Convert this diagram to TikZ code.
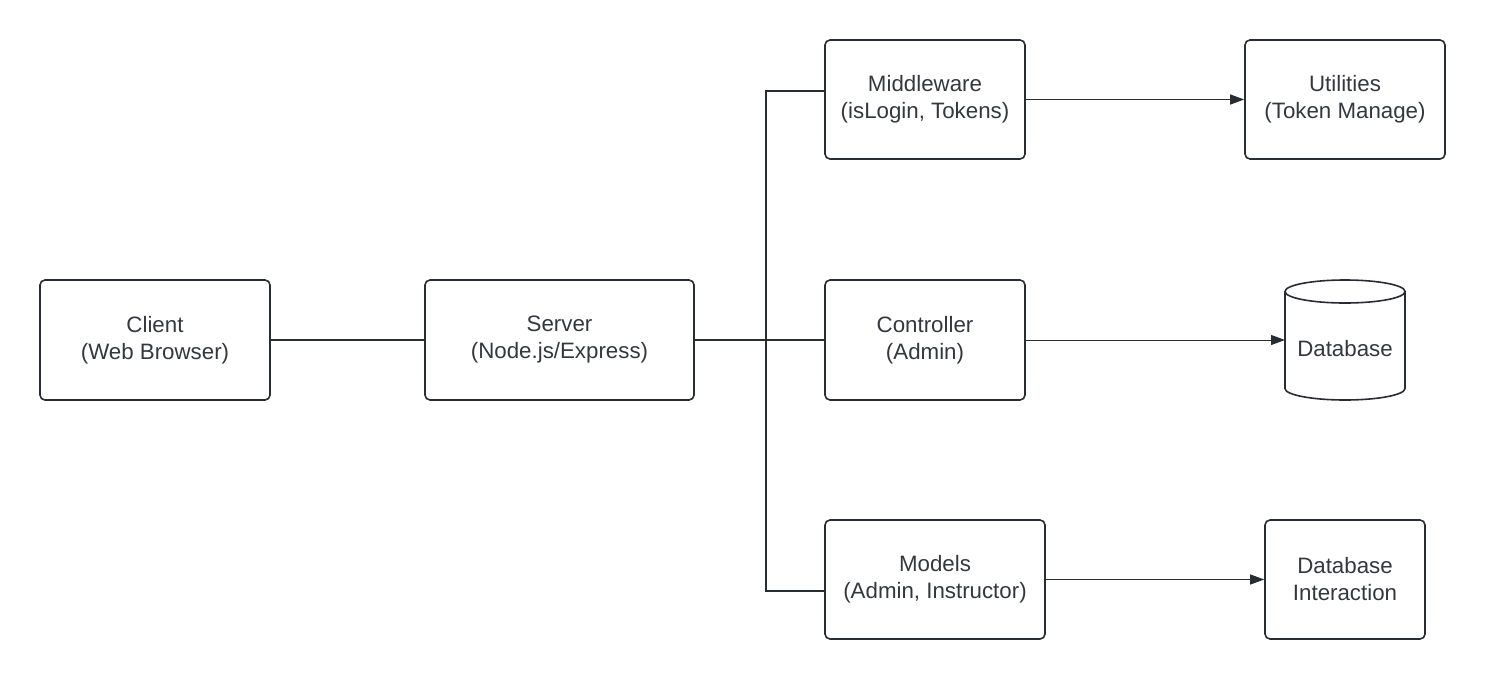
\documentclass[tikz,border=0pt]{standalone}
\usepackage{fontspec}
\setmainfont{Liberation Sans}
\usetikzlibrary{arrows.meta}
\definecolor{edge}{HTML}{282C33}
\definecolor{ink}{HTML}{33383F}
\begin{document}
\begin{tikzpicture}[x=1pt,y=-1pt,
  box/.style={draw=edge, line width=1.6pt, rounded corners=5pt, align=center,
    text=ink, font=\fontsize{22.3}{27}\selectfont, inner sep=0pt},
  conn/.style={draw=edge, line width=1.8pt},
  flow/.style={draw=edge, line width=1pt, -{Triangle[length=14pt,width=10pt]}},
  label/.style={text=ink, font=\fontsize{22.3}{27}\selectfont, align=center}]
  \useasboundingbox (0,0) rectangle (1485,680);

  % boxes
  \node[box, minimum width=230pt, minimum height=120pt] (client) at (155,340) {Client\\(Web Browser)};
  \node[box, minimum width=269pt, minimum height=120pt] (server) at (559.5,340) {Server\\(Node.js/Express)};
  \node[box, minimum width=200pt, minimum height=119pt] (mw) at (925,99.5) {Middleware\\(isLogin, Tokens)};
  \node[box, minimum width=200pt, minimum height=119pt] (util) at (1345,99.5) {Utilities\\(Token Manage)};
  \node[box, minimum width=200pt, minimum height=120pt] (ctrl) at (925,340) {Controller\\(Admin)};
  \node[box, minimum width=220pt, minimum height=119pt] (models) at (935,579.5) {Models\\(Admin, Instructor)};
  \node[box, minimum width=160pt, minimum height=119pt] (dbi) at (1345,579.5) {Database\\Interaction};

  % database cylinder
  \draw[edge, line width=1.6pt, fill=white]
    (1285,291.5) -- (1285,388.5)
    arc[start angle=180, end angle=0, x radius=60, y radius=11.5]
    -- (1405,291.5);
  \draw[edge, line width=1.6pt] (1345,291.5) ellipse [x radius=60, y radius=11.5];
  \node[label] (db) at (1345,348.5) {Database};
  \coordinate (dbin) at (1285,340);

  % trunk from the server to the three layers
  \coordinate (jt) at (766,91);
  \coordinate (jb) at (766,591);
  \draw[conn] (client) -- (server);
  \draw[conn] (server.east) -- (ctrl.west);
  \draw[conn] (mw.west |- jt) -- (jt) -- (jb) -- (models.west |- jb);

  % arrows to the right column
  \draw[flow] (mw.east) -- (util.west);
  \draw[flow] (ctrl.east) -- (dbin);
  \draw[flow] (models.east) -- (dbi.west);
\end{tikzpicture}
\end{document}
